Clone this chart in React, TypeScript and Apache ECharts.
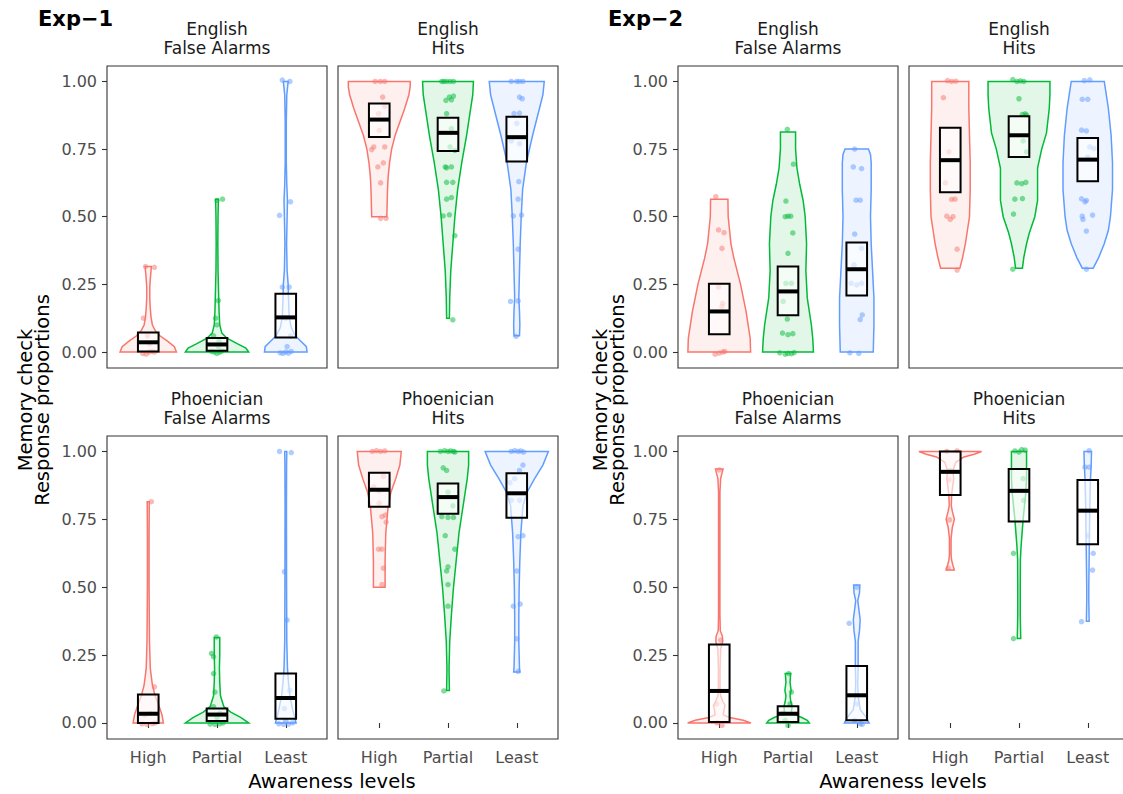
import React, { useEffect, useRef } from 'react';
import * as echarts from 'echarts';

const CATEGORIES = ['High', 'Partial', 'Least'];
const Y_TICKS = [0, 0.25, 0.5, 0.75, 1];
const GROUP_COLORS = ['#F8766D', '#00BA38', '#619CFF'];
const GROUP_FILLS = ['rgba(248,118,109,0.11)', 'rgba(0,186,56,0.11)', 'rgba(97,156,255,0.11)'];

// ---------- Exp-1, English, False Alarms ----------
const E1_ENG_FA_VIOLINS = [
  [[0, 0.41], [0.02, 0.38], [0.04, 0.28], [0.06, 0.17], [0.08, 0.1], [0.1, 0.06], [0.13, 0.04], [0.16, 0.03], [0.2, 0.022], [0.24, 0.022], [0.27, 0.03], [0.3, 0.04], [0.316, 0.045]],
  [[0, 0.46], [0.015, 0.42], [0.03, 0.3], [0.05, 0.15], [0.07, 0.07], [0.1, 0.04], [0.15, 0.03], [0.2, 0.025], [0.3, 0.015], [0.4, 0.012], [0.5, 0.015], [0.565, 0.02]],
  [[0, 0.31], [0.02, 0.3], [0.04, 0.22], [0.06, 0.14], [0.09, 0.08], [0.13, 0.05], [0.2, 0.04], [0.25, 0.035], [0.3, 0.02], [0.4, 0.012], [0.5, 0.02], [0.56, 0.025], [0.62, 0.015], [0.7, 0.008], [0.85, 0.008], [0.95, 0.015], [1.0, 0.035]],
];
const E1_ENG_FA_BOXES = [[0.002, 0.036, 0.072], [0.005, 0.028, 0.052], [0.054, 0.128, 0.215]];
const E1_ENG_FA_POINTS = [
  [[-0.04, 0.316], [0.09, 0.313], [-0.07, 0.125], [-0.08, -0.005], [-0.03, -0.008], [0.01, 0.0], [0.05, 0.003], [0.09, 0.0], [0.02, 0.03], [-0.01, 0.06]],
  [[0.08, 0.565], [0.0, 0.56], [0.02, 0.19], [-0.02, 0.125], [0.0, 0.1], [-0.05, 0.06], [0.03, 0.04], [-0.04, 0.0], [0.0, -0.005], [0.04, 0.0], [0.07, 0.003], [-0.08, 0.002], [0.02, 0.02]],
  [[-0.05, 1.005], [0.06, 1.0], [-0.09, 0.505], [0.07, 0.555], [-0.05, 0.24], [0.05, 0.24], [0.0, 0.125], [0.07, 0.06], [-0.08, -0.003], [-0.04, -0.005], [0.0, 0.0], [0.04, -0.004], [0.08, 0.002], [0.02, 0.02]],
];

// ---------- Exp-1, English, Hits ----------
const E1_ENG_HIT_VIOLINS = [
  [[0.5, 0.11], [0.55, 0.115], [0.6, 0.12], [0.65, 0.13], [0.7, 0.15], [0.75, 0.18], [0.8, 0.23], [0.85, 0.3], [0.9, 0.37], [0.95, 0.43], [0.98, 0.45], [1.0, 0.45]],
  [[0.125, 0.02], [0.2, 0.025], [0.3, 0.04], [0.4, 0.07], [0.5, 0.1], [0.6, 0.14], [0.7, 0.2], [0.8, 0.27], [0.9, 0.33], [0.95, 0.36], [1.0, 0.37]],
  [[0.06, 0.04], [0.1, 0.045], [0.15, 0.04], [0.2, 0.03], [0.3, 0.04], [0.4, 0.05], [0.5, 0.065], [0.6, 0.085], [0.7, 0.14], [0.8, 0.23], [0.9, 0.33], [0.95, 0.38], [1.0, 0.4]],
];
const E1_ENG_HIT_BOXES = [[0.795, 0.859, 0.918], [0.743, 0.81, 0.866], [0.704, 0.794, 0.869]];
const E1_ENG_HIT_POINTS = [
  [[-0.06, 1.0], [0.015, 1.0], [0.08, 1.0], [0.05, 0.942], [0.08, 0.908], [-0.01, 0.881], [0.0, 0.819], [-0.08, 0.758], [0.08, 0.758], [-0.11, 0.748], [0.06, 0.699], [-0.02, 0.684], [0.02, 0.625], [0.02, 0.494], [0.1, 0.494]],
  [[-0.09, 1.0], [-0.06, 1.0], [-0.02, 1.0], [0.03, 1.0], [0.08, 1.0], [0.02, 0.942], [0.08, 0.946], [-0.03, 0.93], [0.05, 0.932], [-0.02, 0.881], [0.05, 0.826], [0.03, 0.758], [0.1, 0.745], [-0.04, 0.684], [0.05, 0.684], [-0.02, 0.681], [-0.02, 0.627], [0.07, 0.627], [-0.02, 0.565], [0.05, 0.571], [-0.07, 0.503], [0.02, 0.507], [0.1, 0.43], [0.07, 0.119]],
  [[-0.08, 1.0], [0.0, 1.0], [0.04, 1.0], [0.09, 1.0], [0.04, 0.942], [0.08, 0.936], [-0.04, 0.881], [0.04, 0.883], [0.0, 0.845], [-0.08, 0.78], [0.04, 0.77], [0.03, 0.63], [0.02, 0.565], [-0.05, 0.503], [0.07, 0.506], [0.02, 0.38], [-0.09, 0.187], [0.02, 0.189], [-0.01, 0.058]],
];

// ---------- Exp-1, Phoenician, False Alarms ----------
const E1_PHO_FA_VIOLINS = [
  [[0, 0.22], [0.03, 0.2], [0.06, 0.16], [0.1, 0.1], [0.14, 0.06], [0.2, 0.03], [0.3, 0.018], [0.5, 0.012], [0.7, 0.012], [0.815, 0.015]],
  [[0, 0.46], [0.02, 0.35], [0.04, 0.2], [0.06, 0.1], [0.1, 0.05], [0.15, 0.04], [0.2, 0.035], [0.25, 0.04], [0.3, 0.04], [0.315, 0.04]],
  [[0, 0.15], [0.05, 0.1], [0.1, 0.06], [0.15, 0.04], [0.2, 0.025], [0.3, 0.015], [0.5, 0.012], [0.8, 0.01], [0.95, 0.012], [1.0, 0.015]],
];
const E1_PHO_FA_BOXES = [[0.0, 0.034, 0.105], [0.007, 0.031, 0.053], [0.016, 0.092, 0.182]];
const E1_PHO_FA_POINTS = [
  [[0.045, 0.815], [0.09, 0.133], [-0.09, -0.003], [-0.02, -0.005], [0.06, -0.002], [0.1, 0.0], [0.03, 0.035], [-0.05, 0.03]],
  [[-0.01, 0.317], [-0.08, 0.256], [-0.05, 0.244], [-0.05, 0.182], [-0.03, 0.114], [-0.05, 0.06], [0.04, 0.035], [-0.1, -0.004], [-0.03, -0.005], [0.04, -0.003], [0.09, 0.0], [0.0, 0.02]],
  [[-0.09, 1.0], [0.08, 0.996], [-0.02, 0.557], [0.02, 0.379], [0.06, 0.12], [-0.02, 0.053], [-0.1, -0.003], [-0.03, -0.005], [0.04, -0.004], [0.1, 0.0], [0.0, 0.01]],
];

// ---------- Exp-1, Phoenician, Hits ----------
const E1_PHO_HIT_VIOLINS = [
  [[0.5, 0.085], [0.55, 0.085], [0.6, 0.085], [0.7, 0.095], [0.8, 0.13], [0.85, 0.17], [0.9, 0.24], [0.95, 0.3], [1.0, 0.32]],
  [[0.12, 0.02], [0.2, 0.015], [0.3, 0.025], [0.4, 0.05], [0.5, 0.08], [0.6, 0.12], [0.7, 0.16], [0.8, 0.22], [0.9, 0.28], [0.95, 0.3], [1.0, 0.3]],
  [[0.188, 0.045], [0.2, 0.04], [0.3, 0.03], [0.4, 0.03], [0.5, 0.035], [0.6, 0.045], [0.7, 0.06], [0.8, 0.09], [0.85, 0.15], [0.9, 0.26], [0.95, 0.38], [1.0, 0.46]],
];
const E1_PHO_HIT_BOXES = [[0.796, 0.859, 0.922], [0.771, 0.832, 0.882], [0.756, 0.846, 0.92]];
const E1_PHO_HIT_POINTS = [
  [[-0.1, 1.0], [-0.04, 1.003], [0.02, 1.0], [0.08, 1.002], [0.06, 0.908], [-0.08, 0.87], [0.0, 0.855], [0.0, 0.81], [0.09, 0.766], [0.04, 0.76], [0.1, 0.74], [-0.01, 0.64], [0.04, 0.64], [0.06, 0.57], [0.04, 0.51]],
  [[-0.11, 1.0], [-0.05, 1.003], [0.0, 1.0], [0.04, 1.002], [0.08, 1.0], [0.1, 0.998], [-0.07, 0.94], [-0.02, 0.93], [0.0, 0.85], [0.07, 0.8], [-0.09, 0.76], [0.0, 0.757], [0.08, 0.757], [-0.04, 0.69], [0.1, 0.64], [0.0, 0.575], [-0.02, 0.56], [0.0, 0.51], [0.0, 0.43], [-0.06, 0.118]],
  [[-0.08, 1.0], [-0.03, 1.003], [0.02, 1.0], [0.06, 1.002], [0.1, 0.998], [0.09, 0.95], [0.04, 0.93], [-0.03, 0.9], [-0.1, 0.885], [-0.08, 0.82], [0.04, 0.82], [0.09, 0.69], [0.02, 0.686], [0.0, 0.56], [-0.05, 0.43], [0.05, 0.438], [0.0, 0.31], [0.02, 0.19]],
];

// ---------- Exp-2, English, False Alarms ----------
const E2_ENG_FA_VIOLINS = [
  [[0, 0.456], [0.05, 0.45], [0.1, 0.42], [0.15, 0.39], [0.2, 0.35], [0.25, 0.31], [0.3, 0.26], [0.35, 0.21], [0.4, 0.17], [0.45, 0.15], [0.5, 0.13], [0.565, 0.126]],
  [[0, 0.37], [0.05, 0.36], [0.1, 0.34], [0.2, 0.28], [0.3, 0.26], [0.4, 0.27], [0.5, 0.25], [0.56, 0.22], [0.62, 0.17], [0.68, 0.13], [0.75, 0.11], [0.813, 0.11]],
  [[0, 0.24], [0.1, 0.25], [0.2, 0.25], [0.3, 0.23], [0.4, 0.21], [0.5, 0.2], [0.6, 0.21], [0.7, 0.21], [0.73, 0.2], [0.75, 0.17]],
];
const E2_ENG_FA_BOXES = [[0.066, 0.15, 0.252], [0.136, 0.224, 0.316], [0.209, 0.306, 0.405]];
const E2_ENG_FA_POINTS = [
  [[-0.05, 0.574], [-0.01, 0.451], [0.07, 0.441], [0.04, 0.383], [-0.01, 0.24], [0.05, 0.18], [0.04, 0.168], [-0.06, -0.008], [0.0, -0.004], [0.05, 0.0], [0.08, 0.002]],
  [[-0.01, 0.823], [0.08, 0.694], [-0.03, 0.558], [-0.04, 0.5], [0.0, 0.502], [0.04, 0.502], [0.07, 0.44], [0.0, 0.365], [-0.03, 0.254], [0.05, 0.254], [-0.07, 0.187], [-0.01, 0.122], [-0.08, 0.07], [0.0, 0.064], [0.07, 0.068], [-0.12, -0.003], [-0.04, -0.008], [0.0, -0.005], [0.05, -0.006], [0.09, -0.002]],
  [[-0.03, 0.75], [-0.05, 0.684], [0.07, 0.678], [-0.01, 0.561], [0.05, 0.561], [-0.03, 0.436], [0.07, 0.383], [-0.04, 0.322], [-0.08, 0.254], [0.0, 0.248], [0.07, 0.254], [0.08, 0.137], [0.05, 0.12], [-0.1, -0.003], [0.03, -0.005]],
];

// ---------- Exp-2, English, Hits ----------
const E2_ENG_HIT_VIOLINS = [
  [[0.31, 0.14], [0.35, 0.18], [0.4, 0.22], [0.45, 0.25], [0.5, 0.28], [0.6, 0.29], [0.7, 0.29], [0.8, 0.28], [0.9, 0.27], [1.0, 0.27]],
  [[0.31, 0.05], [0.35, 0.07], [0.4, 0.11], [0.44, 0.15], [0.5, 0.23], [0.56, 0.27], [0.62, 0.27], [0.68, 0.27], [0.75, 0.33], [0.81, 0.4], [0.9, 0.44], [0.95, 0.45], [1.0, 0.45]],
  [[0.31, 0.08], [0.35, 0.16], [0.4, 0.24], [0.45, 0.3], [0.5, 0.33], [0.6, 0.36], [0.7, 0.36], [0.8, 0.34], [0.9, 0.3], [0.95, 0.27], [1.0, 0.24]],
];
const E2_ENG_HIT_BOXES = [[0.59, 0.709, 0.829], [0.721, 0.801, 0.871], [0.631, 0.711, 0.791]];
const E2_ENG_HIT_POINTS = [
  [[-0.04, 1.003], [0.02, 1.0], [0.08, 1.001], [-0.1, 0.94], [-0.02, 0.74], [-0.07, 0.625], [0.02, 0.564], [0.07, 0.565], [-0.05, 0.502], [0.04, 0.5], [0.0, 0.49], [0.1, 0.38], [0.1, 0.303]],
  [[-0.09, 1.007], [-0.03, 1.0], [0.02, 1.002], [0.07, 1.0], [0.0, 0.936], [0.09, 0.88], [0.05, 0.878], [0.11, 0.875], [0.06, 0.78], [0.11, 0.74], [-0.03, 0.625], [0.04, 0.622], [0.1, 0.627], [-0.06, 0.565], [0.05, 0.567], [-0.08, 0.51], [-0.09, 0.306]],
  [[-0.05, 1.003], [0.03, 1.006], [-0.08, 0.934], [0.0, 0.934], [-0.09, 0.82], [-0.02, 0.817], [0.03, 0.758], [0.09, 0.752], [0.0, 0.72], [-0.09, 0.566], [-0.02, 0.56], [-0.04, 0.555], [-0.08, 0.502], [0.07, 0.506], [-0.07, 0.49], [-0.02, 0.447], [-0.02, 0.306]],
];

// ---------- Exp-2, Phoenician, False Alarms ----------
const E2_PHO_FA_VIOLINS = [
  [[0, 0.46], [0.01, 0.35], [0.02, 0.15], [0.03, 0.06], [0.05, 0.07], [0.065, 0.085], [0.08, 0.05], [0.1, 0.02], [0.12, 0.012], [0.2, 0.012], [0.27, 0.02], [0.3, 0.05], [0.32, 0.045], [0.34, 0.015], [0.4, 0.01], [0.6, 0.01], [0.85, 0.01], [0.9, 0.02], [0.935, 0.055]],
  [[0, 0.31], [0.01, 0.28], [0.02, 0.2], [0.03, 0.1], [0.04, 0.05], [0.06, 0.06], [0.08, 0.04], [0.1, 0.03], [0.12, 0.045], [0.15, 0.03], [0.17, 0.035], [0.182, 0.04]],
  [[0, 0.18], [0.02, 0.14], [0.05, 0.05], [0.1, 0.02], [0.15, 0.015], [0.2, 0.02], [0.3, 0.02], [0.34, 0.04], [0.38, 0.05], [0.42, 0.03], [0.45, 0.015], [0.48, 0.04], [0.508, 0.045]],
];
const E2_PHO_FA_BOXES = [[0.004, 0.118, 0.289], [0.004, 0.034, 0.062], [0.01, 0.102, 0.21]];
const E2_PHO_FA_POINTS = [
  [[0.04, -0.009], [-0.03, 0.0], [0.02, 0.305], [-0.04, 0.07], [0.0, 0.932]],
  [[0.01, 0.182], [0.05, 0.114], [0.03, 0.07], [-0.07, 0.035], [0.0, -0.009], [-0.04, 0.01]],
  [[-0.11, 0.367], [0.0, 0.5], [0.0, 0.07], [0.05, -0.003], [0.08, -0.005], [-0.03, 0.01]],
];

// ---------- Exp-2, Phoenician, Hits ----------
const E2_PHO_HIT_VIOLINS = [
  [[0.563, 0.06], [0.58, 0.04], [0.6, 0.02], [0.62, 0.012], [0.68, 0.012], [0.72, 0.03], [0.75, 0.06], [0.78, 0.03], [0.8, 0.015], [0.84, 0.02], [0.87, 0.035], [0.9, 0.05], [0.93, 0.04], [0.96, 0.08], [0.98, 0.2], [0.99, 0.35], [1.0, 0.456]],
  [[0.311, 0.025], [0.4, 0.018], [0.5, 0.018], [0.6, 0.02], [0.65, 0.03], [0.7, 0.045], [0.75, 0.06], [0.8, 0.08], [0.85, 0.1], [0.9, 0.11], [1.0, 0.11]],
  [[0.375, 0.02], [0.45, 0.015], [0.5, 0.015], [0.6, 0.02], [0.7, 0.025], [0.8, 0.03], [0.9, 0.04], [0.95, 0.05], [1.0, 0.055]],
];
const E2_PHO_HIT_BOXES = [[0.84, 0.925, 1.0], [0.742, 0.855, 0.935], [0.658, 0.782, 0.895]];
const E2_PHO_HIT_POINTS = [
  [[0.1, 1.002], [-0.05, 1.0], [0.0, 0.93], [-0.02, 0.895], [-0.01, 0.748], [-0.03, 0.57]],
  [[0.09, 1.005], [0.04, 1.007], [-0.06, 1.002], [0.0, 0.998], [0.06, 0.9], [0.07, 0.82], [-0.08, 0.625], [-0.08, 0.311]],
  [[0.02, 1.003], [-0.04, 0.942], [0.02, 0.942], [0.0, 0.69], [0.08, 0.625], [0.07, 0.563], [-0.09, 0.373]],
];

const PANELS = [
  { exp: 0, row: 0, col: 0, strip: ['English', 'False Alarms'], violins: E1_ENG_FA_VIOLINS, boxes: E1_ENG_FA_BOXES, points: E1_ENG_FA_POINTS },
  { exp: 0, row: 0, col: 1, strip: ['English', 'Hits'], violins: E1_ENG_HIT_VIOLINS, boxes: E1_ENG_HIT_BOXES, points: E1_ENG_HIT_POINTS },
  { exp: 0, row: 1, col: 0, strip: ['Phoenician', 'False Alarms'], violins: E1_PHO_FA_VIOLINS, boxes: E1_PHO_FA_BOXES, points: E1_PHO_FA_POINTS },
  { exp: 0, row: 1, col: 1, strip: ['Phoenician', 'Hits'], violins: E1_PHO_HIT_VIOLINS, boxes: E1_PHO_HIT_BOXES, points: E1_PHO_HIT_POINTS },
  { exp: 1, row: 0, col: 0, strip: ['English', 'False Alarms'], violins: E2_ENG_FA_VIOLINS, boxes: E2_ENG_FA_BOXES, points: E2_ENG_FA_POINTS },
  { exp: 1, row: 0, col: 1, strip: ['English', 'Hits'], violins: E2_ENG_HIT_VIOLINS, boxes: E2_ENG_HIT_BOXES, points: E2_ENG_HIT_POINTS },
  { exp: 1, row: 1, col: 0, strip: ['Phoenician', 'False Alarms'], violins: E2_PHO_FA_VIOLINS, boxes: E2_PHO_FA_BOXES, points: E2_PHO_FA_POINTS },
  { exp: 1, row: 1, col: 1, strip: ['Phoenician', 'Hits'], violins: E2_PHO_HIT_VIOLINS, boxes: E2_PHO_HIT_BOXES, points: E2_PHO_HIT_POINTS },
];

const EXP_TITLES = ['Exp\u22121', 'Exp\u22122'];

// layout
const EXP_LEFT = [107, 678];
const COL_STEP = 231;
const ROW_TOP = [66, 436];
const ROW_H = [302, 303];
const PANEL_W = 220;
const FONT = 'DejaVu Sans';

function buildOption() {
  const grid: any[] = [];
  const xAxis: any[] = [];
  const yAxis: any[] = [];
  const series: any[] = [];
  const graphic: any[] = [];

  PANELS.forEach((p, i) => {
    const left = EXP_LEFT[p.exp] + p.col * COL_STEP;
    const top = ROW_TOP[p.row];
    grid.push({
      left, top, width: PANEL_W, height: ROW_H[p.row],
      show: true, borderColor: '#333333', borderWidth: 1.1, backgroundColor: 'transparent',
      containLabel: false, outerBoundsMode: 'none',
    });
    xAxis.push({
      gridIndex: i, type: 'value', min: 0.4, max: 3.6,
      splitLine: { show: false }, axisLine: { show: false },
      axisTick: { show: p.row === 1, customValues: [1, 2, 3], length: 5, lineStyle: { color: '#333333', width: 1.1 } },
      axisLabel: {
        show: p.row === 1, customValues: [1, 2, 3], margin: 10,
        formatter: (v: number) => CATEGORIES[Math.round(v) - 1],
        fontSize: 16, fontFamily: FONT, color: '#4d4d4d',
      },
    });
    yAxis.push({
      gridIndex: i, type: 'value', min: -0.059, max: 1.057,
      splitLine: { show: false }, axisLine: { show: false },
      axisTick: { show: p.col === 0, customValues: Y_TICKS, length: 5, lineStyle: { color: '#333333', width: 1.1 } },
      axisLabel: {
        show: p.col === 0, customValues: Y_TICKS, margin: 10,
        formatter: (v: number) => v.toFixed(2),
        fontSize: 16, fontFamily: FONT, color: '#4d4d4d',
      },
    });

    const violins = p.violins;
    series.push({
      type: 'custom', xAxisIndex: i, yAxisIndex: i, silent: true, z: 1,
      data: violins.map((_, g) => [g + 1, 0]),
      renderItem: (params: any, api: any) => {
        const g = params.dataIndex;
        const prof = violins[g];
        const right = prof.map(([y, hw]) => api.coord([g + 1 + hw, y]));
        const left = prof.slice().reverse().map(([y, hw]) => api.coord([g + 1 - hw, y]));
        return {
          type: 'polygon',
          shape: { points: right.concat(left) },
          style: { fill: GROUP_FILLS[g], stroke: GROUP_COLORS[g], lineWidth: 1.5 },
        };
      },
    });

    p.points.forEach((pts, g) => {
      series.push({
        type: 'scatter', xAxisIndex: i, yAxisIndex: i, silent: true, z: 2,
        symbolSize: 5.5,
        itemStyle: { color: GROUP_COLORS[g], opacity: 0.5 },
        data: pts.map(([dx, y]) => [g + 1 + dx, y]),
      });
    });

    series.push({
      type: 'custom', xAxisIndex: i, yAxisIndex: i, silent: true, z: 3,
      data: p.boxes.map(([lo, mid, hi], g) => [g + 1, lo, mid, hi]),
      encode: { x: 0, y: [1, 2, 3] },
      renderItem: (params: any, api: any) => {
        const x = api.value(0);
        const lo = api.value(1);
        const mid = api.value(2);
        const hi = api.value(3);
        const tl = api.coord([x - 0.15, hi]);
        const br = api.coord([x + 0.15, lo]);
        const ml = api.coord([x - 0.15, mid]);
        const mr = api.coord([x + 0.15, mid]);
        return {
          type: 'group',
          children: [
            { type: 'rect', shape: { x: tl[0], y: tl[1], width: br[0] - tl[0], height: br[1] - tl[1] }, style: { fill: 'rgba(255,255,255,0.6)', stroke: '#000', lineWidth: 2 } },
            { type: 'line', shape: { x1: ml[0], y1: ml[1], x2: mr[0], y2: mr[1] }, style: { stroke: '#000', lineWidth: 4 } },
          ],
        };
      },
    });

    // strip labels
    const cx = left + PANEL_W / 2;
    const stripY = p.row === 0 ? [28.5, 47.5] : [398.5, 417.5];
    p.strip.forEach((t, k) => {
      graphic.push({
        type: 'text', x: cx, y: stripY[k], silent: true,
        style: { text: t, fontSize: 17, fontFamily: FONT, fill: '#1a1a1a', align: 'center', verticalAlign: 'middle', textAlign: 'center', textVerticalAlign: 'middle' },
      });
    });
  });

  // experiment titles, axis titles
  const expTitleX = [38, 608];
  const yTitleX = [[25, 42], [600, 617]];
  const xTitleX = [332, 903];
  [0, 1].forEach((e) => {
    graphic.push({
      type: 'text', x: expTitleX[e], y: 18.5, silent: true,
      style: { text: EXP_TITLES[e], fontSize: 21, fontWeight: 'bold', fontFamily: FONT, fill: '#000', align: 'left', verticalAlign: 'middle', textAlign: 'left', textVerticalAlign: 'middle' },
    });
    ['Memory check', 'Response proportions'].forEach((t, k) => {
      graphic.push({
        type: 'text', x: yTitleX[e][k], y: 400, rotation: Math.PI / 2, silent: true,
        style: { text: t, fontSize: 19.5, fontFamily: FONT, fill: '#000', align: 'center', verticalAlign: 'middle', textAlign: 'center', textVerticalAlign: 'middle' },
      });
    });
    graphic.push({
      type: 'text', x: xTitleX[e], y: 781, silent: true,
      style: { text: 'Awareness levels', fontSize: 19.5, fontFamily: FONT, fill: '#000', align: 'center', verticalAlign: 'middle', textAlign: 'center', textVerticalAlign: 'middle' },
    });
  });

  return {
    animation: false,
    backgroundColor: '#ffffff',
    textStyle: { fontFamily: FONT },
    grid, xAxis, yAxis, series, graphic,
  };
}

export default function App() {
  const ref = useRef<HTMLDivElement>(null);
  useEffect(() => {
    if (!ref.current) return;
    const chart = echarts.init(ref.current, undefined, { renderer: 'svg' });
    chart.setOption(buildOption() as any);
    return () => chart.dispose();
  }, []);
  return (
    <div
      ref={ref}
      style={{ position: 'fixed', left: 0, top: 0, width: 1123, height: 794, overflow: 'hidden', background: '#fff' }}
    />
  );
}
